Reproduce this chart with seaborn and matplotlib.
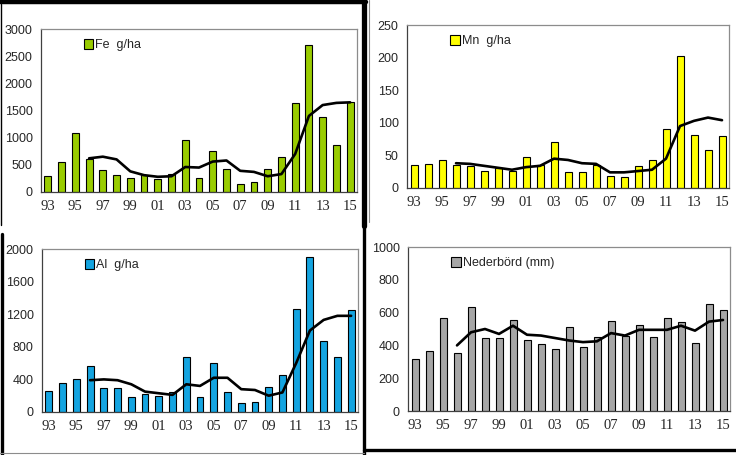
import numpy as np
import pandas as pd
import matplotlib.pyplot as plt
import seaborn as sns
from matplotlib.patches import Patch
from matplotlib.lines import Line2D

sns.set_style("white")
plt.rcParams['font.family'] = ['Liberation Sans', 'DejaVu Sans']

years = ["93", "94", "95", "96", "97", "98", "99", "00", "01", "02", "03", "04",
         "05", "06", "07", "08", "09", "10", "11", "12", "13", "14", "15"]

fe = [290, 550, 1080, 610, 410, 320, 260, 310, 240, 340, 950, 250,
      750, 420, 140, 180, 420, 640, 1630, 2710, 1380, 860, 1660]
fe_trend = [620, 650, 600, 380, 310, 280, 290, 460, 450, 560, 580, 390,
            370, 290, 330, 700, 1400, 1600, 1640, 1650]

mn = [36, 37, 43, 36, 33, 26, 30, 26, 48, 35, 71, 24,
      24, 36, 18, 17, 34, 43, 90, 202, 82, 58, 80]
mn_trend = [38, 37, 34, 31, 28, 32, 34, 45, 43, 38, 37, 24,
            24, 26, 28, 45, 95, 103, 108, 104]

al = [260, 350, 400, 560, 290, 300, 190, 220, 200, 250, 670, 180,
      600, 240, 110, 120, 310, 460, 1260, 1900, 870, 680, 1250]
al_trend = [390, 400, 390, 340, 250, 230, 210, 340, 320, 420, 420, 280,
            270, 200, 240, 600, 1000, 1130, 1180, 1180]

ned = [315, 365, 570, 355, 635, 445, 445, 555, 430, 410, 380, 510,
       390, 450, 550, 460, 525, 450, 565, 545, 415, 655, 615]
ned_trend = [400, 480, 500, 470, 520, 465, 460, 445, 430, 420, 425, 475,
             460, 495, 495, 495, 520, 490, 545, 555]

W, H = 736, 455
fig = plt.figure(figsize=(W / 100, H / 100), dpi=100)


def px_axes(l, t, r, b):
    return fig.add_axes([l / W, 1 - b / H, (r - l) / W, (b - t) / H])


panels = [
    (px_axes(41, 29, 357, 192), fe, fe_trend, "#99cc00", "Fe  g/ha", 3000, 500),
    (px_axes(407, 25, 729, 188), mn, mn_trend, "#ffff00", "Mn  g/ha", 250, 50),
    (px_axes(42, 249, 358, 412), al, al_trend, "#14a4e0", "Al  g/ha", 2000, 400),
    (px_axes(408, 247, 730, 411), ned, ned_trend, "#a6a6a6", "Nederbörd (mm)", 1000, 200),
]

for ax, vals, trend, color, label, ymax, step in panels:
    idx = np.arange(len(years))
    df = pd.DataFrame({"i": idx, "v": vals})
    sns.barplot(data=df, x="i", y="v", ax=ax, color=color, width=0.5,
                edgecolor="black", linewidth=0.8, saturation=1)
    tdf = pd.DataFrame({"i": idx[3:], "v": trend})
    sns.lineplot(data=tdf, x="i", y="v", ax=ax, color="black", linewidth=1.9)

    ax.set_xlim(-0.5, len(years) - 0.5)
    ax.set_ylim(0, ymax)
    ax.set_yticks(np.arange(0, ymax + 1, step))
    ax.set_xticks(idx[::2])
    ax.set_xticklabels(years[::2], family="Liberation Serif", fontsize=10.5)
    ax.set_xticks(np.arange(-0.5, len(years), 1), minor=True)
    ax.tick_params(axis="x", which="major", length=0, pad=6)
    ax.tick_params(axis="x", which="minor", direction="inout", length=6, width=0.8, color="#404040")
    ax.tick_params(axis="y", direction="inout", length=6, width=0.8, color="#404040",
                   labelsize=9, pad=3)
    ax.set_xlabel("")
    ax.set_ylabel("")
    for s in ax.spines.values():
        s.set_color("#8c8c8c")
        s.set_linewidth(0.9)
    ax.spines["left"].set_color("#404040")
    ax.spines["bottom"].set_color("#404040")
    ax.legend(handles=[Patch(facecolor=color, edgecolor="black", linewidth=0.8, label=label)],
              loc="center left", bbox_to_anchor=(0.115, 0.90), frameon=False,
              handlelength=0.75, handleheight=0.75, handletextpad=0.15,
              borderpad=0, fontsize=9)

# outer frame lines of the composed figure
def fline(x0, y0, x1, y1, lw, c="black"):
    fig.add_artist(Line2D([x0 / W, x1 / W], [1 - y0 / H, 1 - y1 / H],
                          transform=fig.transFigure, color=c, linewidth=lw))

fline(0, 2, 366, 2, 3.2)
fline(364, 0, 364, 226, 3.8)
fline(364, 226, 364, 455, 2.4)
fline(1, 4, 1, 225, 1.0)
fline(1.5, 234, 1.5, 455, 2.4)
fline(364, 450, 736, 450, 2.4)
fline(0, 453, 364, 453, 0.8, "#8c8c8c")
fline(369, 0, 369, 222, 0.8, "#8c8c8c")

fig.savefig("out.png", dpi=100)
